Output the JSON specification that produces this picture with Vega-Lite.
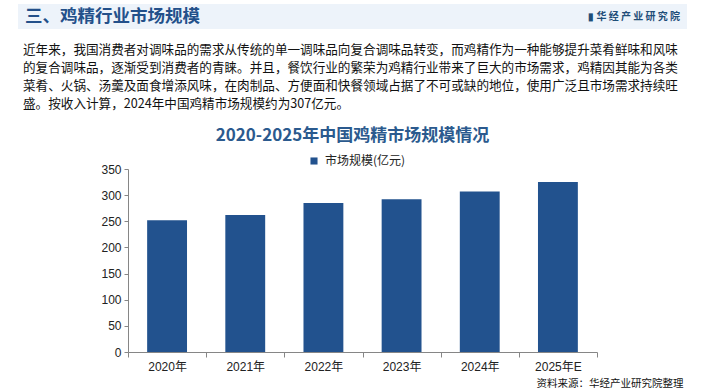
{
  "$schema": "https://vega.github.io/schema/vega-lite/v6.json",
  "background": "#ffffff",
  "padding": {"left": 18, "top": 4, "right": 18, "bottom": 2},
  "bounds": "flush",
  "spacing": 140,
  "resolve": {
    "scale": {"x": "independent", "y": "independent", "color": "independent"},
    "legend": {"color": "independent"},
    "axis": {"x": "independent", "y": "independent"}
  },
  "config": {"view": {"stroke": null}},
  "vconcat": [
    {
      "width": 669,
      "height": 25,
      "view": {"fill": "#edf3fa", "stroke": null},
      "title": {
        "text": [
          "近年来，我国消费者对调味品的需求从传统的单一调味品向复合调味品转变，而鸡精作为一种能够提升菜肴鲜味和风味",
          "的复合调味品，逐渐受到消费者的青睐。并且，餐饮行业的繁荣为鸡精行业带来了巨大的市场需求，鸡精因其能为各类",
          "菜肴、火锅、汤羹及面食增添风味，在肉制品、方便面和快餐领域占据了不可或缺的地位，使用广泛且市场需求持续旺",
          "盛。按收入计算，2024年中国鸡精市场规模约为307亿元。"
        ],
        "orient": "bottom",
        "anchor": "start",
        "baseline": "top",
        "dx": 5,
        "offset": 15,
        "font": "Noto Sans CJK SC",
        "fontSize": 12.6,
        "fontWeight": "normal",
        "color": "#111111",
        "lineHeight": 18
      },
      "data": {
        "values": [
          {"pos": "left", "kind": "title", "label": "三、鸡精行业市场规模"},
          {"pos": "right", "kind": "logo", "label": "▮ 华 经 产 业 研 究 院"}
        ]
      },
      "layer": [
        {
          "transform": [{"filter": "datum.kind === 'title'"}],
          "mark": {"type": "rect", "color": "#edf3fa"},
          "encoding": {}
        },
        {
          "transform": [{"filter": "datum.kind === 'title'"}],
          "mark": {"type": "text", "align": "left", "baseline": "middle", "font": "Noto Sans CJK SC", "fontSize": 17.5, "fontWeight": "bold", "color": "#23508a"},
          "encoding": {
            "x": {"field": "pos", "type": "nominal", "scale": {"type": "point", "domain": ["left", "right"], "padding": 0.0106}, "axis": null},
            "text": {"field": "label"}
          }
        },
        {
          "transform": [{"filter": "datum.kind === 'logo'"}],
          "mark": {"type": "text", "align": "right", "baseline": "middle", "font": "Noto Sans CJK SC", "fontSize": 10, "fontWeight": "bold", "color": "#1f4e79"},
          "encoding": {
            "x": {"field": "pos", "type": "nominal", "scale": {"type": "point", "domain": ["left", "right"], "padding": 0.0106}, "axis": null},
            "text": {"field": "label"}
          }
        }
      ]
    },
    {
      "width": 669,
      "height": 183,
      "view": {"stroke": null},
      "title": {
        "text": "2020-2025年中国鸡精市场规模情况",
        "anchor": "middle",
        "font": "Noto Sans CJK SC",
        "fontSize": 17,
        "fontWeight": "bold",
        "color": "#2b5a8e",
        "offset": 10
      },
      "data": {
        "values": [
          {"year": "2020年", "value": 252, "series": "市场规模(亿元)"},
          {"year": "2021年", "value": 262, "series": "市场规模(亿元)"},
          {"year": "2022年", "value": 285, "series": "市场规模(亿元)"},
          {"year": "2023年", "value": 292, "series": "市场规模(亿元)"},
          {"year": "2024年", "value": 307, "series": "市场规模(亿元)"},
          {"year": "2025年E", "value": 325, "series": "市场规模(亿元)"}
        ]
      },
      "mark": {"type": "bar", "width": {"band": 0.51}},
      "encoding": {
        "x": {
          "field": "year",
          "type": "nominal",
          "sort": null,
          "scale": {"range": [110, 579], "paddingInner": 0, "paddingOuter": 0},
          "axis": {
            "tickBand": "extent",
            "tickSize": 5,
            "tickColor": "#868686",
            "domainColor": "#868686",
            "labelAngle": 0,
            "labelFont": "Liberation Sans, Noto Sans CJK SC",
            "labelFontSize": 12,
            "labelColor": "#222222",
            "labelPadding": 4,
            "title": "资料来源：华经产业研究院整理",
            "titleFont": "Noto Sans CJK SC",
            "titleFontSize": 10.5,
            "titleFontWeight": "normal",
            "titleColor": "#111111",
            "titleAlign": "right",
            "titleBaseline": "middle",
            "titleX": 665,
            "titleY": 31
          }
        },
        "y": {
          "field": "value",
          "type": "quantitative",
          "scale": {"domain": [0, 350]},
          "axis": {
            "offset": -110,
            "values": [0, 50, 100, 150, 200, 250, 300, 350],
            "grid": false,
            "title": null,
            "tickSize": 4,
            "tickColor": "#868686",
            "domainColor": "#868686",
            "labelFont": "Liberation Sans",
            "labelFontSize": 12,
            "labelColor": "#222222",
            "labelPadding": 3
          }
        },
        "color": {
          "field": "series",
          "type": "nominal",
          "scale": {"range": ["#22528e"]},
          "legend": {
            "orient": "none",
            "legendX": 290,
            "legendY": -14,
            "title": null,
            "symbolType": "square",
            "symbolSize": 50,
            "symbolStrokeWidth": 0,
            "labelFont": "Noto Sans CJK SC",
            "labelFontSize": 12,
            "labelColor": "#222222",
            "labelOffset": 5
          }
        }
      }
    }
  ]
}
